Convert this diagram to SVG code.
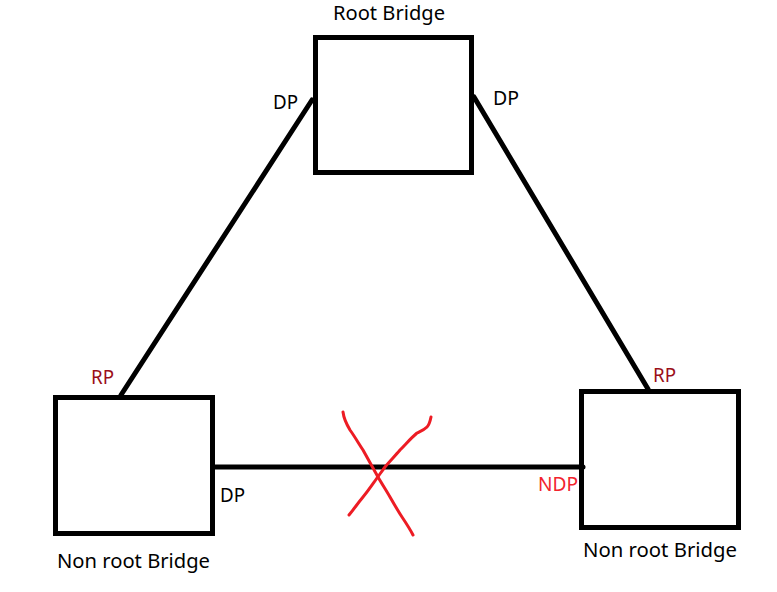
<svg xmlns="http://www.w3.org/2000/svg" width="777" height="592" viewBox="0 0 777 592">
<style>
.box{fill:none;stroke:#000;stroke-width:5}
.link{stroke:#000;stroke-width:5;fill:none;stroke-linecap:round}
.t{font-family:"Noto Sans","Liberation Sans",sans-serif;font-size:19px;fill:#000}
.rp{fill:#9b0f1a}
.ndp{fill:#f2232e}
.x{fill:none;stroke:#ed1c24;stroke-width:3;stroke-linecap:round;stroke-linejoin:round}
</style>
<rect width="777" height="592" fill="#fff"/>
<g id="connectors">
<line class="link" x1="121" y1="395" x2="312" y2="100"/>
<line class="link" x1="474" y1="97" x2="648" y2="389"/>
<line class="link" x1="214" y1="467" x2="583" y2="467"/>
</g>
<g id="root-bridge">
<rect class="box" x="315.5" y="37.5" width="156" height="135"/>
<text class="t" x="333" y="20" textLength="112" lengthAdjust="spacingAndGlyphs">Root Bridge</text>
<text class="t" x="273" y="109" textLength="25" lengthAdjust="spacingAndGlyphs">DP</text>
<text class="t" x="493" y="105" textLength="26" lengthAdjust="spacingAndGlyphs">DP</text>
</g>
<g id="non-root-left">
<rect class="box" x="55.5" y="397.5" width="157" height="136"/>
<text class="t rp" x="91" y="384" textLength="23" lengthAdjust="spacingAndGlyphs">RP</text>
<text class="t" x="220" y="502" textLength="25" lengthAdjust="spacingAndGlyphs">DP</text>
<text class="t" x="57" y="568" textLength="153" lengthAdjust="spacingAndGlyphs">Non root Bridge</text>
</g>
<g id="non-root-right">
<rect class="box" x="581.5" y="391.5" width="157" height="136"/>
<text class="t rp" x="653" y="382" textLength="23" lengthAdjust="spacingAndGlyphs">RP</text>
<text class="t ndp" x="538" y="491" textLength="40" lengthAdjust="spacingAndGlyphs">NDP</text>
<text class="t" x="583" y="557" textLength="154" lengthAdjust="spacingAndGlyphs">Non root Bridge</text>
</g>
<g id="blocked-mark">
<path class="x" d="M343,412 C344,420 347,425 350,430 C355,437 359,444 363,450 C368,459 373,468 378,477 C382,484 386,490 390,497 C394,504 398,511 402,517 C406,523 410,529 413,535"/>
<path class="x" d="M431,417 C430,422 429,425 427,427 C424,430 421,431 417,433 C411,438 406,444 400,450 C395,456 390,461 385,467 C382,471 380,474 377,478 C372,485 368,491 363,497 C358,503 354,509 349,515"/>
</g>
</svg>
